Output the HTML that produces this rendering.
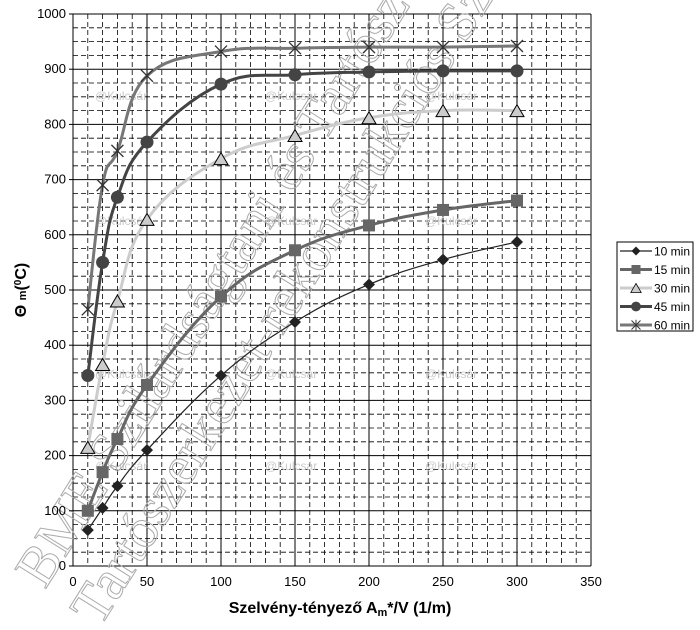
<!DOCTYPE html>
<html><head><meta charset="utf-8"><style>
body{margin:0;background:#fff;}
svg{display:block;font-family:"Liberation Sans",sans-serif;}
</style></head><body>
<svg id="chart" width="700" height="630" viewBox="0 0 700 630" xmlns="http://www.w3.org/2000/svg">
<g id="grid"></g>
<g id="wm" fill="#ccc" font-size="12">
</g>
<g id="series"></g>
<g id="axes" font-size="13"></g>
<text x="340" y="613" text-anchor="middle" font-size="16" font-weight="bold">Szelvény-tényező  A<tspan font-size="11" dy="3">m</tspan><tspan dy="-3">*/V (1/m)</tspan></text>
<text transform="translate(26,290) rotate(-90)" text-anchor="middle" font-size="16" font-weight="bold">Θ <tspan font-size="11">m</tspan>(<tspan font-size="10" dy="-5">0</tspan><tspan dy="5">C)</tspan></text>
<g id="legend"></g>
</svg>
<script>
const xValues=[10,20,30,50,100,150,200,250,300];
const seriesNames=["10 min","15 min","30 min","45 min","60 min"];
const s10=[65,105,145,210,345,442,510,555,587];
const s15=[100,170,230,328,488,572,617,645,662];
const s30=[215,365,480,628,738,780,812,825,825];
const s45=[345,550,668,768,873,890,895,897,897];
const s60=[465,690,752,888,932,938,940,940,942];
const xTicks=[0,50,100,150,200,250,300,350];
const yTicks=[0,100,200,300,400,500,600,700,800,900,1000];
const L=73,R=591,T=14,B=566;
const X=v=>L+(v/350)*(R-L);
const Y=v=>B-(v/1000)*(B-T);
const NS="http://www.w3.org/2000/svg";
function mk(tag,attrs,parent){const e=document.createElementNS(NS,tag);for(const k in attrs)e.setAttribute(k,attrs[k]);parent.appendChild(e);return e;}
const grid=document.getElementById('grid');
for(let v=0;v<=350;v+=10){const major=v%50===0;const e=mk('line',{x1:X(v),x2:X(v),y1:T,y2:B,stroke:'#000','stroke-width':major?1:0.8,'stroke-dasharray':major?'none':'5,3'},grid);

}
for(let v=0;v<=1000;v+=25){const major=v%100===0;const e=mk('line',{x1:L,x2:R,y1:Y(v),y2:Y(v),stroke:'#000','stroke-width':major?1:0.8,'stroke-dasharray':major?'none':'5,3'},grid);

}
const axes=document.getElementById('axes');
xTicks.forEach(t=>{const e=mk('text',{x:X(t),y:B+20,'text-anchor':'middle'},axes);e.textContent=t;

});
yTicks.forEach(t=>{const e=mk('text',{x:L-7,y:Y(t)+4,'text-anchor':'end'},axes);e.textContent=t;


mk('line',{x1:L-4,x2:L,y1:Y(t),y2:Y(t),stroke:'#000'},axes);});
const wm=document.getElementById('wm');
[[95,100],[265,100],[425,100],[95,225],[265,225],[425,225],[95,378],[265,378],[425,378],[95,470],[265,470],[425,470]].forEach(p=>{const e=mk('text',{x:p[0],y:p[1]},wm);e.textContent='@Kulcsár';

});
const w1=mk('text',{transform:'translate(45,590) rotate(-58)','font-size':56,fill:'none',stroke:'#aaa','stroke-width':1,'font-family':'Liberation Serif, serif'},wm);w1.textContent='BME Szilárdságtani és Tartószerkezeti';


const w2=mk('text',{transform:'translate(100,628) rotate(-58)','font-size':56,fill:'none',stroke:'#aaa','stroke-width':1,'font-family':'Liberation Serif, serif'},wm);w2.textContent='Tartószerkezet-rekonstrukciós Sz';


const styles=[{c:'#222',w:1.2,m:'diamond'},{c:'#666',w:3,m:'square'},{c:'#ccc',w:3,m:'triangle'},{c:'#444',w:3,m:'circle'},{c:'#777',w:3,m:'star'}];
const allSeries=[s10,s15,s30,s45,s60];
function spline(pts){let d=`M${pts[0][0]},${pts[0][1]}`;for(let i=0;i<pts.length-1;i++){const p0=pts[i-1]||pts[i],p1=pts[i],p2=pts[i+1],p3=pts[i+2]||p2;const t=0.2;
const c1=[p1[0]+(p2[0]-p0[0])*t,p1[1]+(p2[1]-p0[1])*t];
const c2=[p2[0]-(p3[0]-p1[0])*t,p2[1]-(p3[1]-p1[1])*t];
d+=` C${c1[0]},${c1[1]} ${c2[0]},${c2[1]} ${p2[0]},${p2[1]}`;}return d;}
function marker(m,x,y,c,g){let e;
if(m==='diamond')e=mk('polygon',{points:`${x},${y-6} ${x+6},${y} ${x},${y+6} ${x-6},${y}`,fill:c},g);
else if(m==='square')e=mk('rect',{x:x-6,y:y-6,width:12,height:12,fill:c},g);
else if(m==='triangle')e=mk('polygon',{points:`${x},${y-6} ${x+7},${y+6} ${x-7},${y+6}`,fill:c,stroke:'#000','stroke-width':1},g);
else if(m==='circle')e=mk('circle',{cx:x,cy:y,r:6.5,fill:c},g);
else{e=mk('path',{d:`M${x-6},${y-6}L${x+6},${y+6}M${x-6},${y+6}L${x+6},${y-6}M${x},${y-7}L${x},${y+7}`,stroke:'#333','stroke-width':1.3,fill:'none'},g);}
return e;}
const sg=document.getElementById('series');
allSeries.forEach((s,i)=>{const st=styles[i];const g=mk('g',{},sg);


const pts=xValues.map((x,j)=>[X(x),Y(s[j])]);
const p=mk('path',{d:spline(pts),fill:'none',stroke:st.c,'stroke-width':st.w},g);


pts.forEach(pt=>{const e=marker(st.m,pt[0],pt[1],st.c,g);

});});
const lg=document.getElementById('legend');
const box=mk('rect',{x:617,y:242,width:76,height:89,fill:'#fff',stroke:'#000'},lg);


seriesNames.forEach((n,i)=>{const y=251+i*18.5;const st=styles[i];const g=mk('g',{},lg);


mk('line',{x1:620,x2:652,y1:y,y2:y,stroke:st.c,'stroke-width':st.w},g);
const m=marker(st.m,636,y,st.c,g);m.setAttribute('transform',`translate(${636*0.25},${y*0.25}) scale(0.75)`);
const t=mk('text',{x:654,y:y+4.5,'font-size':12},g);t.textContent=n;});
</script>
</body></html>
